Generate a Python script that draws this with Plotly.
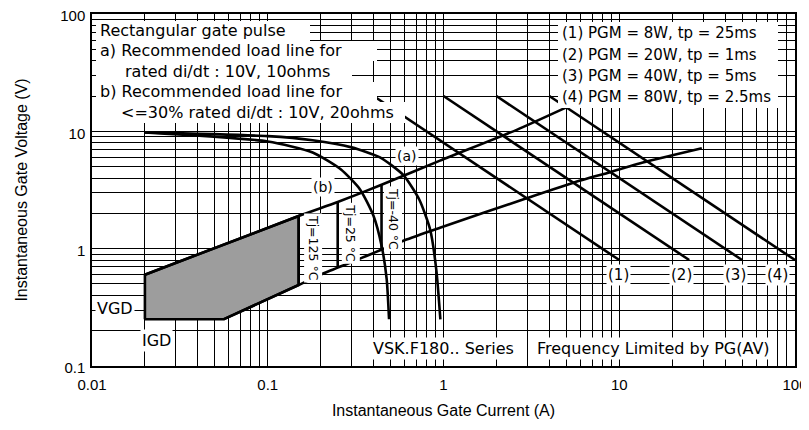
import plotly.graph_objects as go

# ---------------- data ----------------
current_tick_vals = [0.01, 0.1, 1, 10, 100]
current_tick_text = ["0.01", "0.1", "1", "10", "100"]
voltage_tick_vals = [0.1, 1, 10, 100]
voltage_tick_text = ["0.1", "1", "10", "100"]

# load line (a): 10V, 10 ohms
load_a_I = [0.02, 0.1, 0.18, 0.3, 0.435, 0.59, 0.73, 0.84, 0.91, 0.96]
load_a_V = [9.8, 9.1, 8.4, 7.3, 6.0, 4.25, 2.6, 1.45, 0.66, 0.25]
# load line (b): 10V, 20 ohms
load_b_I = [0.02, 0.1, 0.18, 0.26, 0.335, 0.40, 0.445, 0.475, 0.49]
load_b_V = [9.8, 8.2, 6.6, 4.75, 3.2, 1.9, 1.05, 0.55, 0.25]

# trigger area boundaries
upper_I = [0.02, 0.15, 0.25, 0.444, 0.955, 2.61, 5.0]
upper_V = [0.6, 1.9, 2.5, 3.5, 5.63, 10.3, 16.0]
lower_I = [0.056, 0.15, 0.21, 0.34, 0.6, 0.955, 2.97, 5.48, 8.85, 14.3, 29.5]
lower_V = [0.25, 0.49, 0.62, 0.83, 1.18, 1.51, 2.69, 3.65, 4.48, 5.52, 7.18]

# shaded region
region_I = [0.02, 0.02, 0.15, 0.15, 0.056, 0.02]
region_V = [0.25, 0.6, 1.9, 0.49, 0.25, 0.25]

# junction temperature limits
tj_labels = ["Tj=125 °C", "Tj=25 °C", "Tj=-40 °C"]
tj_I = [0.15, 0.25, 0.444]
tj_V_low = [0.49, 0.69, 0.97]
tj_V_high = [1.9, 2.5, 3.5]

# peak gate power lines
pgm_labels = ["(1)", "(2)", "(3)", "(4)"]
pgm_I_start = [0.4, 1.0, 2.0, 4.0]
pgm_I_end = [10, 25, 50, 100]
pgm_V_start = [20, 20, 20, 20]
pgm_V_end = [0.8, 0.8, 0.8, 0.8]

box1_lines = ["Rectangular gate pulse",
              "a) Recommended load line for",
              "rated di/dt : 10V, 10ohms",
              "b) Recommended load line for",
              "<=30% rated di/dt : 10V, 20ohms"]
box2_lines = ["(1) PGM = 8W, tp = 25ms",
              "(2) PGM = 20W, tp = 1ms",
              "(3) PGM = 40W, tp = 5ms",
              "(4) PGM = 80W, tp = 2.5ms"]

# ---------------- figure ----------------
PAGE_W, PAGE_H = 809, 430
OFF = 8                      # default page margin around the plot div
W, H = PAGE_W - OFF, PAGE_H - 2 * OFF
X0, X1, Y0, Y1 = 92, 795, 14, 366   # plot area in page pixels


def xp(p):
    return (p - X0) / (X1 - X0)


def yp(p):
    return (Y1 - p) / (Y1 - Y0)


LW = 2.6
fig = go.Figure()
fig.add_trace(go.Scatter(x=region_I, y=region_V, mode="lines", fill="toself",
                         fillcolor="#9d9d9d", line=dict(color="black", width=LW),
                         hoverinfo="skip"))
for xs, ys in [(upper_I, upper_V), (lower_I, lower_V), (load_a_I, load_a_V),
               (load_b_I, load_b_V)]:
    fig.add_trace(go.Scatter(x=xs, y=ys, mode="lines",
                             line=dict(color="black", width=LW, shape="spline", smoothing=0.6)))
for i in range(len(tj_I)):
    fig.add_trace(go.Scatter(x=[tj_I[i], tj_I[i]], y=[tj_V_low[i], tj_V_high[i]],
                             mode="lines", line=dict(color="black", width=LW)))
for i in range(len(pgm_I_start)):
    fig.add_trace(go.Scatter(x=[pgm_I_start[i], pgm_I_end[i]],
                             y=[pgm_V_start[i], pgm_V_end[i]],
                             mode="lines", line=dict(color="black", width=LW)))

minor_x = [m * 10 ** e for e in range(-2, 2) for m in range(2, 10)]
minor_y = [m * 10 ** e for e in range(-1, 2) for m in range(2, 10)]

axis_common = dict(type="log", showgrid=True, gridcolor="black", gridwidth=1,
                   showline=True, linecolor="black", linewidth=1.5, mirror="allticks",
                   ticks="inside", ticklen=6, tickcolor="black", zeroline=False,
                   automargin=False, ticklabeloverflow="allow",
                   tickfont=dict(family="Liberation Sans", size=15, color="black"))
fig.update_xaxes(**axis_common, range=[-2, 2], tickvals=current_tick_vals,
                 ticktext=current_tick_text, ticklabelstandoff=4,
                 minor=dict(tickvals=minor_x, showgrid=True, gridcolor="black",
                            gridwidth=1, ticks="inside", ticklen=5, tickcolor="black"),
                 title=dict(text="Instantaneous Gate Current (A)", standoff=13,
                            font=dict(family="Liberation Sans", size=16, color="black")))
fig.update_yaxes(**axis_common, range=[-1, 2], tickvals=voltage_tick_vals,
                 ticktext=voltage_tick_text, ticklabelstandoff=2, ticklabelshift=2,
                 minor=dict(tickvals=minor_y, showgrid=True, gridcolor="black",
                            gridwidth=1, ticks="inside", ticklen=5, tickcolor="black"),
                 title=dict(text="Instantaneous Gate Voltage (V)", standoff=29,
                            font=dict(family="Liberation Sans", size=16, color="black")))

# white boxes behind legend-like texts
shapes = []
box1_rects = [(96, 21, 310, 41), (96, 41, 377, 61), (96, 61, 352, 82),
              (96, 82, 377, 102), (96, 102, 405, 123)]
for (a, b, c, d) in box1_rects:
    shapes.append(dict(type="rect", xref="paper", yref="paper", x0=xp(a), x1=xp(c),
                       y0=yp(d), y1=yp(b), fillcolor="white", line=dict(width=0),
                       layer="above"))
shapes.append(dict(type="rect", xref="paper", yref="paper", x0=xp(558), x1=xp(778),
                   y0=yp(108), y1=yp(22), fillcolor="white", line=dict(width=0),
                   layer="above"))

ann = []
TXT = dict(family="DejaVu Sans", color="black")
box1_x = [98, 98, 123, 98, 119]
box1_y = [30.7, 50.7, 71.7, 91.7, 112.7]
for t, x, y in zip(box1_lines, box1_x, box1_y):
    ann.append(dict(text=t, x=xp(x), y=yp(y), xref="paper", yref="paper",
                    xanchor="left", yanchor="middle", showarrow=False,
                    font=dict(**TXT, size=16)))
box2_y = [33.3, 55, 76, 96.7]
for t, y in zip(box2_lines, box2_y):
    ann.append(dict(text=t, x=xp(560), y=yp(y), xref="paper", yref="paper",
                    xanchor="left", yanchor="middle", showarrow=False,
                    font=dict(**TXT, size=15)))


def lab(text, x, y, size, angle=0):
    ann.append(dict(text=text, x=xp(x), y=yp(y), xref="paper", yref="paper",
                    xanchor="center", yanchor="middle", showarrow=False,
                    textangle=angle, bgcolor="white", borderpad=1,
                    font=dict(**TXT, size=size)))


tj_pos = [(313.3, 248.3), (351, 233.3), (393.3, 219.2)]
for t, (x, y) in zip(tj_labels, tj_pos):
    lab(t, x, y, 12.5, 90)
lab("(a)", 406.7, 156, 14)
lab("(b)", 323.3, 187.3, 14)
pgm_pos = [618.3, 681.7, 735.7, 777.3]
for t, x in zip(pgm_labels, pgm_pos):
    lab(t, x, 275, 15)
lab("VGD", 115, 308.3, 16)
lab("IGD", 156, 340, 16)
lab("VSK.F180.. Series", 443, 348.3, 16)
lab("Frequency Limited by PG(AV)", 653.5, 348.3, 16)

fig.update_layout(width=W, height=H, showlegend=False,
                  margin=dict(l=X0 - OFF, r=PAGE_W - X1, t=Y0 - OFF,
                              b=PAGE_H - OFF - Y1),
                  paper_bgcolor="white", plot_bgcolor="white",
                  shapes=shapes, annotations=ann)

fig.write_html("out.html")
